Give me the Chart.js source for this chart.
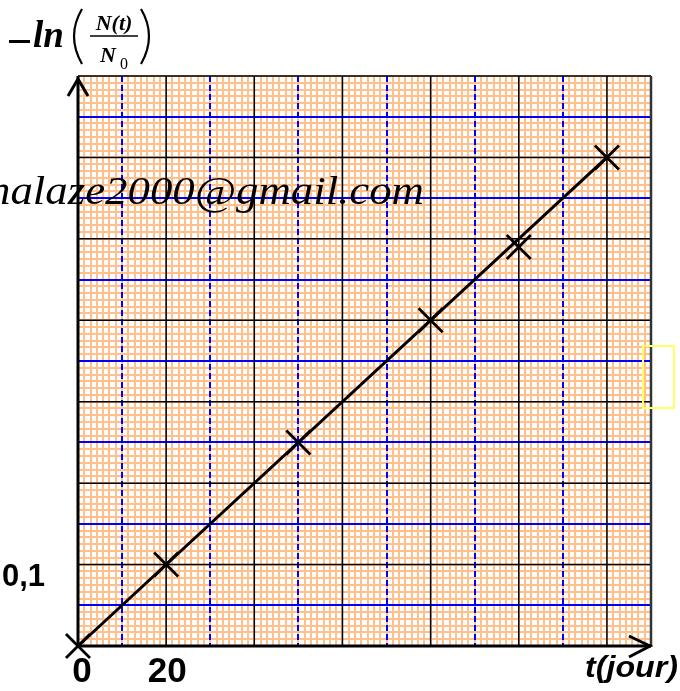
<!DOCTYPE html>
<html>
<head>
<meta charset="utf-8">
<script src="https://cdn.jsdelivr.net/npm/chart.js@4/dist/chart.umd.min.js"></script>
<style>
  html, body { margin: 0; padding: 0; background: #fff; }
  #wrap { width: 680px; height: 691px; }
</style>
</head>
<body>
<div id="wrap"><canvas id="decayChart" width="680" height="691"></canvas></div>
<script>
// measured points: t in days, -ln(N/N0)
const days = [0, 20, 50, 80, 100, 120];
const lnRatio = [0, 0.1, 0.25, 0.4, 0.49, 0.6];
// straight line drawn through the points
const fitDays = [0, 120];
const fitLn = [0, 0.6];
const xTickLabels = [0, 20];
const yTickLabels = [0.1];
const xMax = 130;
const yMax = 0.7;

// graph paper: major / half / fine subdivisions
const xMajor = 20, xHalf = 10, xFinePerHalf = 7;
const yMajor = 0.1, yHalf = 0.05, yFinePerHalf = 6;

const points = days.map((d, i) => ({ x: d, y: lnRatio[i] }));
const fitPoints = fitDays.map((d, i) => ({ x: d, y: fitLn[i] }));

const graphPaper = {
    id: 'graphPaper',
    beforeDatasetsDraw(chart) {
        const { ctx, chartArea: a, scales: { x, y } } = chart;
        const vline = px => { ctx.beginPath(); ctx.moveTo(px, a.top); ctx.lineTo(px, a.bottom); ctx.stroke(); };
        const hline = py => { ctx.beginPath(); ctx.moveTo(a.left, py); ctx.lineTo(a.right, py); ctx.stroke(); };
        ctx.save();
        // fine orange grid
        ctx.strokeStyle = '#FFC08C';
        ctx.lineWidth = 2;
        const nxFine = Math.round(xMax / xHalf * xFinePerHalf);
        for (let i = 1; i <= nxFine; i++) vline(Math.round(x.getPixelForValue(i * xHalf / xFinePerHalf)));
        const nyFine = Math.round(yMax / yHalf * yFinePerHalf);
        for (let i = 1; i <= nyFine; i++) hline(Math.round(y.getPixelForValue(i * yHalf / yFinePerHalf)));
        // blue half lines: dashed vertical, solid horizontal
        ctx.strokeStyle = '#0000FF';
        ctx.lineWidth = 2;
        ctx.setLineDash([6, 3]);
        for (let i = 1; i * xHalf <= xMax; i += 2) vline(Math.round(x.getPixelForValue(i * xHalf)));
        ctx.setLineDash([]);
        for (let i = 1; i * yHalf <= yMax + 1e-9; i += 2) hline(Math.round(y.getPixelForValue(i * yHalf)));
        // black major lines
        ctx.strokeStyle = '#000';
        ctx.lineWidth = 1.5;
        for (let i = 1; i * xMajor <= xMax; i++) vline(x.getPixelForValue(i * xMajor));
        for (let i = 1; i * yMajor <= yMax + 1e-9; i++) hline(y.getPixelForValue(i * yMajor));
        // frame right side
        ctx.strokeStyle = '#333';
        ctx.lineWidth = 2.5;
        vline(a.right);
        // axes
        ctx.strokeStyle = '#000';
        ctx.lineWidth = 3;
        ctx.beginPath();
        ctx.moveTo(a.left, a.top); ctx.lineTo(a.left, a.bottom); ctx.lineTo(a.right, a.bottom);
        ctx.stroke();
        // arrow heads
        ctx.beginPath();
        ctx.moveTo(a.left - 10, a.top + 20); ctx.lineTo(a.left, a.top + 3); ctx.lineTo(a.left + 10, a.top + 20);
        ctx.stroke();
        ctx.beginPath();
        ctx.moveTo(a.right - 22, a.bottom - 10); ctx.lineTo(a.right - 1, a.bottom); ctx.lineTo(a.right - 22, a.bottom + 11);
        ctx.stroke();
        ctx.restore();
    },
    afterDatasetsDraw(chart) {
        const { ctx, chartArea: a, scales: { x, y } } = chart;
        ctx.save();
        // watermark
        ctx.fillStyle = '#000';
        ctx.font = 'italic 40px "Liberation Serif"';
        ctx.textBaseline = 'alphabetic';
        const wm = 'nalaze2000@gmail.com';
        const w = ctx.measureText(wm).width;
        ctx.save();
        ctx.translate(-12, 204);
        ctx.scale(436 / w, 1);
        ctx.fillText(wm, 0, 0);
        ctx.restore();

        // stray yellow frame at right edge
        ctx.strokeStyle = '#FFFF66';
        ctx.lineWidth = 2;
        ctx.strokeRect(643, 346, 31, 62);

        // tick labels
        ctx.fillStyle = '#000';
        ctx.font = 'bold 35px "Liberation Sans"';
        ctx.textAlign = 'center';
        xTickLabels.forEach(v => {
            ctx.fillText(String(v), x.getPixelForValue(v) + (v === 0 ? 4 : 1), a.bottom + 36);
        });
        ctx.font = 'bold 31px "Liberation Sans"';
        ctx.textAlign = 'right';
        yTickLabels.forEach(v => {
            ctx.fillText(String(v).replace('.', ','), 45, y.getPixelForValue(v) + 21);
        });

        // x axis title
        ctx.font = 'bold italic 30px "Liberation Sans"';
        ctx.textAlign = 'left';
        const tt = 't(jour)';
        const tw = ctx.measureText(tt).width;
        ctx.save();
        ctx.translate(585, 677);
        ctx.scale(93 / tw, 1);
        ctx.fillText(tt, 0, 0);
        ctx.restore();

        // y axis title: -ln(N(t)/N0)
        ctx.fillRect(9, 40, 21, 3);
        ctx.font = 'bold italic 37px "Liberation Serif"';
        ctx.fillText('ln', 33, 47);
        ctx.lineWidth = 2.2;
        ctx.strokeStyle = '#000';
        ctx.beginPath(); ctx.moveTo(82, 9); ctx.quadraticCurveTo(66, 36, 82, 64); ctx.stroke();
        ctx.beginPath(); ctx.moveTo(141, 9); ctx.quadraticCurveTo(157, 36, 141, 64); ctx.stroke();
        ctx.font = 'bold italic 22px "Liberation Serif"';
        ctx.textAlign = 'center';
        ctx.fillText('N(t)', 114, 30);
        ctx.lineWidth = 1.5;
        ctx.beginPath(); ctx.moveTo(90, 36); ctx.lineTo(138, 36); ctx.stroke();
        ctx.fillText('N', 108, 62);
        ctx.font = '16px "Liberation Serif"';
        ctx.fillText('0', 124, 69);
        ctx.restore();
    }
};

new Chart(document.getElementById('decayChart'), {
    type: 'line',
    data: {
        datasets: [
            {
                data: fitPoints,
                borderColor: '#000',
                borderWidth: 3,
                pointRadius: 0,
                tension: 0,
                clip: false,
            },
            {
                data: points,
                showLine: false,
                pointStyle: 'crossRot',
                pointRadius: 17,
                pointBorderWidth: 2.8,
                pointBorderColor: '#000',
                clip: false,
            },
        ],
    },
    options: {
        responsive: false,
        animation: false,
        devicePixelRatio: 1,
        layout: { padding: { left: 78, top: 76, right: 29, bottom: 45 } },
        plugins: { legend: { display: false }, tooltip: { enabled: false } },
        scales: {
            x: { type: 'linear', min: 0, max: xMax, display: false },
            y: { type: 'linear', min: 0, max: yMax, display: false },
        },
    },
    plugins: [graphPaper],
});
</script>
</body>
</html>
